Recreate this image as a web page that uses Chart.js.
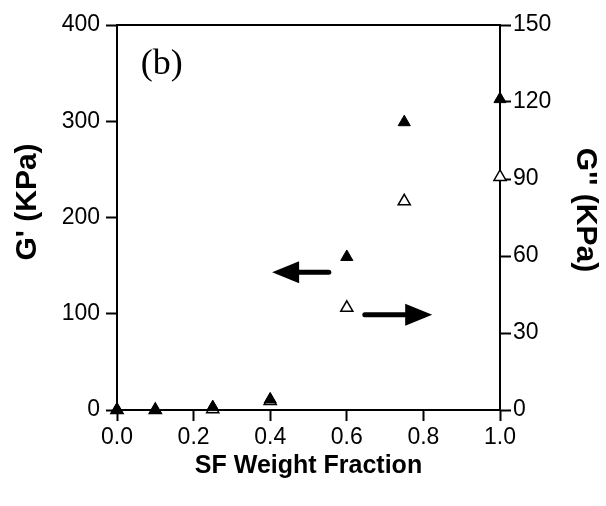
<!DOCTYPE html>
<html>
<head>
<meta charset="utf-8">
<script src="https://cdn.jsdelivr.net/npm/chart.js@4.4.1/dist/chart.umd.min.js"></script>
<style>
  html, body { margin: 0; padding: 0; background: #fff; }
  #wrap { width: 606px; height: 506px; }
</style>
</head>
<body>
<div id="wrap"><canvas id="chart" width="606" height="506"></canvas></div>
<script>
// SF weight fraction
const fractions = [0, 0.1, 0.25, 0.4, 0.6, 0.75, 1.0];
// G' (KPa), left axis, filled triangles
const storageModulus = [0, 0, 3, 11, 159, 299, 323];
// G'' (KPa), right axis, open triangles
const lossModulus = [0, 0, 0.3, 3.5, 39.8, 81.3, 90.8];

const xTicks = [0, 0.2, 0.4, 0.6, 0.8, 1.0];
const leftTicks = [0, 100, 200, 300, 400];
const rightTicks = [0, 30, 60, 90, 120, 150];

// arrows: [fromX, toX, y on left axis]
const arrowLeft = [0.553, 0.405, 143];
const arrowRight = [0.647, 0.823, 99];

const black = "#000";
const sans = "'Liberation Sans', Arial, sans-serif";
const tickFont = { family: sans, size: 23 };

const extras = {
    id: "extras",
    afterDraw(chart) {
        const ctx = chart.ctx;
        const xs = chart.scales.x;
        const ys = chart.scales.y;
        const area = chart.chartArea;

        // top frame line
        ctx.save();
        ctx.strokeStyle = black;
        ctx.fillStyle = black;
        ctx.lineWidth = 2;
        ctx.beginPath();
        ctx.moveTo(area.left, area.top);
        ctx.lineTo(area.right, area.top);
        ctx.stroke();

        // y axis titles
        ctx.font = "bold 30px " + sans;
        ctx.textAlign = "center";
        ctx.textBaseline = "middle";
        ctx.save();
        ctx.translate(28, 202);
        ctx.rotate(-Math.PI / 2);
        ctx.fillText("G' (KPa)", 0, 0);
        ctx.restore();
        ctx.save();
        ctx.translate(585, 210);
        ctx.rotate(Math.PI / 2);
        ctx.fillText("G'' (KPa)", 0, 0);
        ctx.restore();

        // panel label
        ctx.font = "36px 'Liberation Serif', 'Times New Roman', serif";
        ctx.fillText("(b)", xs.getPixelForValue(0.117), ys.getPixelForValue(359));

        const drawArrow = (a) => {
            const x0 = xs.getPixelForValue(a[0]);
            const x1 = xs.getPixelForValue(a[1]);
            const y = ys.getPixelForValue(a[2]);
            const dir = x1 > x0 ? 1 : -1;
            const headLen = 27;
            ctx.lineWidth = 5;
            ctx.lineCap = "round";
            ctx.beginPath();
            ctx.moveTo(x0, y);
            ctx.lineTo(x1 - dir * headLen, y);
            ctx.stroke();
            ctx.beginPath();
            ctx.moveTo(x1, y);
            ctx.lineTo(x1 - dir * headLen, y - 11);
            ctx.lineTo(x1 - dir * headLen, y + 11);
            ctx.closePath();
            ctx.fill();
        };
        drawArrow(arrowLeft);
        drawArrow(arrowRight);
        ctx.restore();
    }
};

function axisCommon() {
    return {
        border: { display: true, color: black, width: 2 },
        grid: {
            display: true,
            drawOnChartArea: false,
            drawTicks: true,
            tickLength: 11,
            tickColor: black,
            tickWidth: 2
        }
    };
}

new Chart(document.getElementById("chart").getContext("2d"), {
    type: "scatter",
    data: {
        datasets: [
            {
                label: "G'",
                data: fractions.map((f, i) => ({ x: f, y: storageModulus[i] })),
                yAxisID: "y",
                pointStyle: "triangle",
                pointRadius: 7,
                pointBackgroundColor: black,
                pointBorderColor: black,
                pointBorderWidth: 1,
                clip: false
            },
            {
                label: "G''",
                data: fractions.map((f, i) => ({ x: f, y: lossModulus[i] })),
                yAxisID: "y1",
                pointStyle: "triangle",
                pointRadius: 7,
                pointBackgroundColor: "#fff",
                pointBorderColor: black,
                pointBorderWidth: 1.5,
                clip: false
            }
        ]
    },
    plugins: [extras],
    options: {
        responsive: false,
        animation: false,
        layout: { padding: { top: 25, left: 0, right: 0, bottom: 0 } },
        plugins: {
            legend: { display: false },
            tooltip: { enabled: false }
        },
        scales: {
            x: {
                ...axisCommon(),
                type: "linear",
                min: 0,
                max: 1,
                afterBuildTicks: (s) => { s.ticks = xTicks.map(v => ({ value: v })); },
                afterFit: (s) => { s.height = 96; },
                ticks: {
                    color: black,
                    font: tickFont,
                    padding: 3,
                    maxRotation: 0,
                    callback: (v) => v.toFixed(1)
                },
                title: {
                    display: true,
                    text: "SF Weight Fraction",
                    color: black,
                    font: { family: sans, size: 25, weight: "bold" },
                    padding: { top: 0, bottom: 25 }
                }
            },
            y: {
                ...axisCommon(),
                position: "left",
                min: 0,
                max: 400,
                afterBuildTicks: (s) => { s.ticks = leftTicks.map(v => ({ value: v })); },
                afterFit: (s) => { s.width = 117; },
                ticks: { color: black, font: tickFont, padding: 6 }
            },
            y1: {
                ...axisCommon(),
                position: "right",
                min: 0,
                max: 150,
                afterBuildTicks: (s) => { s.ticks = rightTicks.map(v => ({ value: v })); },
                afterFit: (s) => { s.width = 106; },
                ticks: { color: black, font: tickFont, padding: 2 }
            }
        }
    }
});
</script>
</body>
</html>
